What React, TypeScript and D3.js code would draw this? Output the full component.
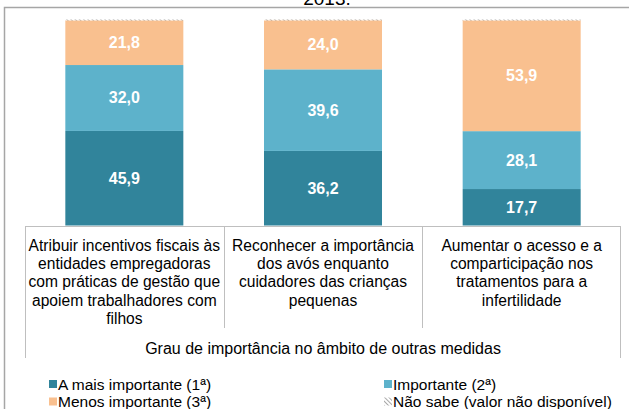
import React, { useEffect, useRef } from 'react';
import * as d3 from 'd3';

const categories = ['atribuir', 'reconhecer', 'aumentar'];
const categoryLines = [
  ['Atribuir incentivos fiscais às', 'entidades empregadoras', 'com práticas de gestão que', 'apoiem trabalhadores com', 'filhos'],
  ['Reconhecer a importância', 'dos avós enquanto', 'cuidadores das crianças', 'pequenas'],
  ['Aumentar o acesso e a', 'comparticipação nos', 'tratamentos para a', 'infertilidade'],
];
const maisImportante = [45.9, 36.2, 17.7];
const importante = [32.0, 39.6, 28.1];
const menosImportante = [21.8, 24.0, 53.9];
const naoSabe = [0.3, 0.2, 0.3];

const seriesKeys = ['mais', 'importante', 'menos', 'naoSabe'];
const seriesNames = ['A mais importante (1ª)', 'Importante (2ª)', 'Menos importante (3ª)', 'Não sabe (valor não disponível)'];
const seriesColors = ['#31849B', '#5DB2CB', '#F9C08F', 'url(#hatch)'];
const axisTitle = 'Grau de importância no âmbito de outras medidas';
const titleTail = '2013.';

const FONT = 'Liberation Sans, Arial, sans-serif';

const App: React.FC = () => {
  const svgRef = useRef<SVGSVGElement>(null);

  useEffect(() => {
    if (!svgRef.current) return;
    const svg = d3.select(svgRef.current);
    svg.selectAll('*').remove();

    // hatch pattern for "Não sabe"
    const defs = svg.append('defs');
    const pat = defs.append('pattern')
      .attr('id', 'hatch')
      .attr('patternUnits', 'userSpaceOnUse')
      .attr('width', 3)
      .attr('height', 3)
      .attr('patternTransform', 'rotate(-45)');
    pat.append('rect').attr('width', 3).attr('height', 3).attr('fill', '#fff');
    pat.append('line').attr('x1', 0).attr('y1', 0).attr('x2', 0).attr('y2', 3)
      .attr('stroke', '#8c8c8c').attr('stroke-width', 1.5);

    // outer frame (runs off the page)
    svg.append('rect')
      .attr('x', 4.5).attr('y', 7.5)
      .attr('width', 700).attr('height', 500)
      .attr('fill', 'none')
      .attr('stroke', '#A6A6A6')
      .attr('stroke-width', 1.5);

    // title line, cut off by the top edge as in the source
    svg.append('text')
      .attr('x', 327).attr('y', 5)
      .attr('text-anchor', 'middle')
      .attr('font-family', FONT)
      .attr('font-size', 19)
      .attr('fill', '#000')
      .text(titleTail);

    const x = d3.scaleBand<string>().domain(categories).range([25, 621]);
    const barW = x.bandwidth() * 0.594;
    const y = d3.scaleLinear().domain([0, 100]).range([225.5, 19.5]);

    const rows = categories.map((c, i) => ({
      cat: c,
      mais: maisImportante[i],
      importante: importante[i],
      menos: menosImportante[i],
      naoSabe: naoSabe[i],
    }));
    const stacked = d3.stack<any>().keys(seriesKeys)(rows);

    const g = svg.append('g');
    stacked.forEach((s, si) => {
      g.selectAll(null)
        .data(s)
        .enter().append('rect')
        .attr('x', d => (x(d.data.cat) as number) + (x.bandwidth() - barW) / 2)
        .attr('y', d => y(d[1]))
        .attr('width', barW)
        .attr('height', d => Math.max(y(d[0]) - y(d[1]), si === 3 ? 1 : 0))
        .attr('fill', seriesColors[si]);

      if (si < 3) {
        g.selectAll(null)
          .data(s)
          .enter().append('text')
          .attr('x', d => (x(d.data.cat) as number) + x.bandwidth() / 2)
          .attr('y', d => (y(d[0]) + y(d[1])) / 2 + 5.5)
          .attr('text-anchor', 'middle')
          .attr('font-family', FONT)
          .attr('font-weight', 'bold')
          .attr('font-size', 16)
          .attr('fill', '#fff')
          .text(d => d3.format('.1f')(d[1] - d[0]).replace('.', ','));
      }
    });

    // multi-level category axis box
    const lineColor = '#BFBFBF';
    const axisG = svg.append('g').attr('stroke', lineColor).attr('stroke-width', 1);
    axisG.append('line').attr('x1', 25).attr('x2', 621).attr('y1', 226.5).attr('y2', 226.5);
    axisG.append('line').attr('x1', 25.5).attr('x2', 25.5).attr('y1', 226).attr('y2', 358);
    axisG.append('line').attr('x1', 620.5).attr('x2', 620.5).attr('y1', 226).attr('y2', 358);
    categories.slice(1).forEach(c => {
      const xx = Math.round(x(c) as number) + 0.5;
      axisG.append('line').attr('x1', xx).attr('x2', xx).attr('y1', 226).attr('y2', 328);
    });

    categories.forEach((c, i) => {
      const t = svg.append('text')
        .attr('text-anchor', 'middle')
        .attr('font-family', FONT)
        .attr('font-size', 15.6)
        .attr('fill', '#000');
      categoryLines[i].forEach((ln, li) => {
        t.append('tspan')
          .attr('x', (x(c) as number) + x.bandwidth() / 2)
          .attr('y', 251 + li * 18.2)
          .text(ln);
      });
    });

    svg.append('text')
      .attr('x', 323).attr('y', 353.5)
      .attr('text-anchor', 'middle')
      .attr('font-family', FONT)
      .attr('font-size', 16)
      .attr('fill', '#000')
      .text(axisTitle);

    // legend
    const legendPos = [[49, 380], [384, 380], [49, 397.5], [384, 397.5]];
    const legend = svg.append('g')
      .selectAll('g')
      .data(seriesNames)
      .enter().append('g')
      .attr('transform', (d, i) => `translate(${legendPos[i][0]},${legendPos[i][1]})`);

    legend.append('rect')
      .attr('width', 8)
      .attr('height', 8)
      .attr('fill', (d, i) => seriesColors[i]);

    legend.append('text')
      .attr('x', 9)
      .attr('y', 9.5)
      .attr('font-family', FONT)
      .attr('font-size', 15.5)
      .attr('fill', '#000')
      .text(d => d);
  }, []);

  return (
    <svg
      ref={svgRef}
      width={629}
      height={409}
      style={{ position: 'absolute', left: 0, top: 0, background: '#fff' }}
    />
  );
};

export default App;
